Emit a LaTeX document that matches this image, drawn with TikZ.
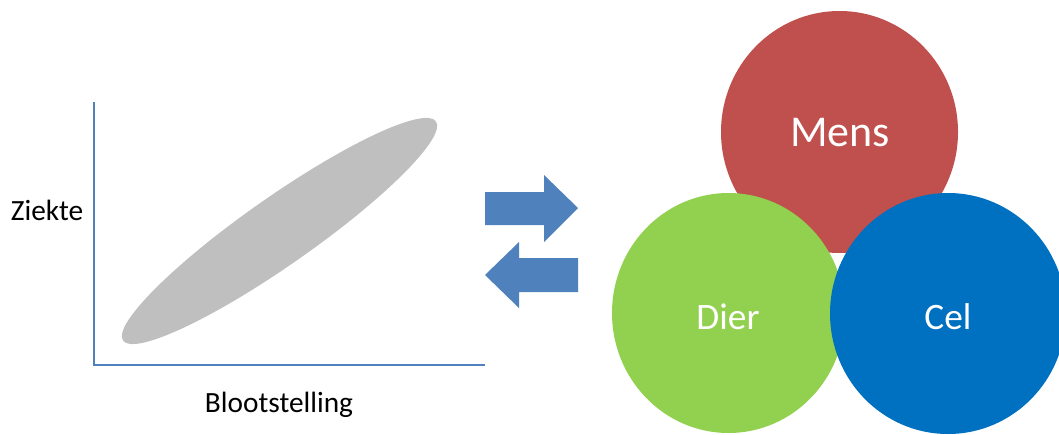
\documentclass[tikz,border=0pt]{standalone}
\usepackage{fontspec}
\setmainfont{Carlito}
\usetikzlibrary{positioning,shapes.geometric}
\definecolor{mensred}{HTML}{C0504D}
\definecolor{diergreen}{HTML}{92D050}
\definecolor{celblue}{HTML}{0070C0}
\definecolor{arrowblue}{HTML}{4F81BD}
\definecolor{blobgray}{HTML}{BFBFBF}
\tikzset{
  bubble/.style={ellipse, inner sep=0pt, text=white, font=\fontsize{28}{33}\selectfont},
  axislabel/.style={font=\fontsize{22}{26}\selectfont, text=black}
}

\begin{document}
\begin{tikzpicture}[x=0.75pt, y=-0.75pt]
    \useasboundingbox (0,0) rectangle (1059,435);

    % Draw axes
    \coordinate (yend) at (94,102);
    \coordinate (origin) at (94,365);
    \coordinate (xend) at (485,365);
    \draw[arrowblue, line width=0.9pt] (yend) -- (origin) -- (xend);

    % Draw cloud of points
    \fill[blobgray, rotate around={35:(279.5,231)}] (279.5,231) ellipse [x radius=191, y radius=34];

    % Axis labels
    \node[axislabel] (ziekte) at (47,210) {Ziekte};
    \node[axislabel] (bloot) at (279,405) {Blootstelling};

    % Draw exchange arrows
    \fill[arrowblue] (485,192) -- (544,192) -- (544,175) -- (578,208)
        -- (544,242) -- (544,225) -- (485,225) -- cycle;
    \fill[arrowblue] (578,258) -- (519,258) -- (519,242) -- (485,275)
        -- (519,308) -- (519,292) -- (578,292) -- cycle;

    % Draw the three circles
    \node[bubble, fill=mensred, minimum width=177.75pt, minimum height=181.5pt] (mens) at (839.5,132) {};
    \node[bubble, fill=diergreen, minimum width=174.75pt, minimum height=180pt] (dier) at (728.5,313) {};
    \node[bubble, fill=celblue, minimum width=177pt, minimum height=180.75pt] (cel) at (948,313.5) {};

    % Labels in the circles
    \node[bubble] (menslabel) at (840,133) {\fontsize{33}{39}\selectfont Mens};
    \node[bubble] (dierlabel) at (728,317) {Dier};
    \node[bubble] (cellabel) at (948,317) {Cel};
\end{tikzpicture}
\end{document}
